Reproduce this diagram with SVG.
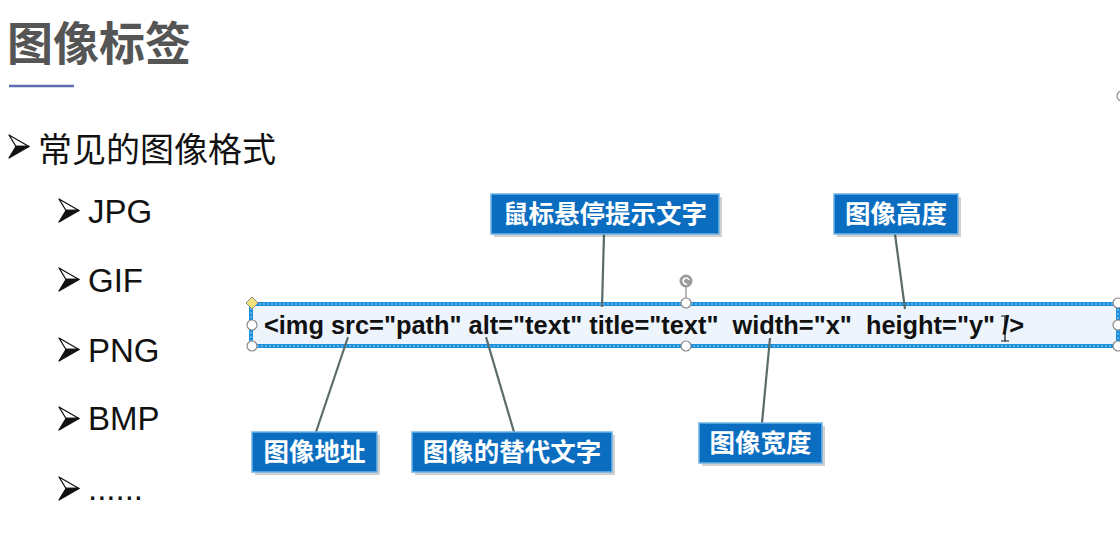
<svg xmlns="http://www.w3.org/2000/svg" width="1120" height="559" viewBox="0 0 1120 559">
<style>
.title{font-family:"Noto Sans CJK SC","Liberation Sans",sans-serif;font-weight:bold;font-size:46px;fill:#555555}
.cn{font-family:"Liberation Sans","Noto Sans CJK SC",sans-serif;font-size:34px;fill:#111111}
.item{font-family:"Liberation Sans","Noto Sans CJK SC",sans-serif;font-size:33px;fill:#111111}
.code{font-family:"Liberation Sans",Arial,sans-serif;font-weight:bold;font-size:26.5px;fill:#111111}
.lbl rect.box{fill:#0b6dbf;stroke:#6fb3e6;stroke-width:1.5}
.lbl rect.sh{fill:#000;opacity:0.18}
.lbl text{font-family:"Noto Sans CJK SC",sans-serif;font-weight:bold;font-size:25.5px;fill:#ffffff;text-anchor:middle}
.conn line{stroke:#5a6b6b;stroke-width:2.2}
.hd{fill:#ffffff;stroke:#8a8a8a;stroke-width:1.2}
</style>
<defs>
<g id="bullet">
<path d="M0,0 L20,11.5 L7,11.5 Z" fill="#ffffff" stroke="#111" stroke-width="1.3" stroke-linejoin="round"/>
<path d="M7,11.5 L20,11.5 L0,23 Z" fill="#111" stroke="#111" stroke-width="1.3" stroke-linejoin="round"/>
</g>
</defs>
<rect width="1120" height="559" fill="#ffffff"/>
<text class="title" x="7" y="60">图像标签</text>
<line x1="9" y1="86" x2="74" y2="86" stroke="#5d6bb3" stroke-width="2.5"/>

<use href="#bullet" x="9" y="135"/>
<text class="cn" x="38" y="162">常见的图像格式</text>
<use href="#bullet" x="59" y="199"/>
<text class="item" x="88" y="223">JPG</text>
<use href="#bullet" x="59" y="268"/>
<text class="item" x="88" y="292">GIF</text>
<use href="#bullet" x="59" y="338"/>
<text class="item" x="88" y="362">PNG</text>
<use href="#bullet" x="59" y="407"/>
<text class="item" x="88" y="430">BMP</text>
<use href="#bullet" x="59" y="477"/>
<text class="item" x="88" y="500">......</text>

<g id="code-box">
<rect x="251" y="304" width="867" height="42" fill="#eef4fb" stroke="#1a8fdb" stroke-width="4"/>
<rect x="251" y="304" width="867" height="42" fill="none" stroke="#9fd0f2" stroke-width="1" stroke-dasharray="2,2"/>
<text class="code" x="264" y="334" xml:space="preserve" textLength="760" lengthAdjust="spacingAndGlyphs">&lt;img src="path" alt="text" title="text"  width="x"  height="y" /&gt;</text>
<line x1="1005" y1="316" x2="1005" y2="341" stroke="#111" stroke-width="1.2"/>
<line x1="1001" y1="316" x2="1009" y2="316" stroke="#111" stroke-width="1"/>
<line x1="1001" y1="341" x2="1009" y2="341" stroke="#111" stroke-width="1"/>
<line x1="686" y1="287" x2="686" y2="299" stroke="#8a8a8a" stroke-width="1.2"/>
<circle cx="686" cy="281" r="6.5" fill="#9a9a9a"/>
<path d="M689,280 A3,3 0 1 0 687,284" fill="none" stroke="#ffffff" stroke-width="1.6"/>
<path d="M252,297 L258,303 L252,309 L246,303 Z" fill="#f3e27a" stroke="#8a8a8a" stroke-width="1"/>
<circle class="hd" cx="252" cy="325" r="5"/>
<circle class="hd" cx="252" cy="346" r="5"/>
<circle class="hd" cx="686" cy="303" r="5"/>
<circle class="hd" cx="686" cy="346" r="5"/>
<circle class="hd" cx="1118" cy="303" r="5"/>
<circle class="hd" cx="1118" cy="325" r="5"/>
<circle class="hd" cx="1118" cy="346" r="5"/>
<circle class="hd" cx="1122" cy="96" r="5"/>
</g>

<g id="connectors" class="conn">
<line x1="604" y1="234" x2="602" y2="307"/>
<line x1="895" y1="234" x2="905" y2="309"/>
<line x1="316" y1="432" x2="348" y2="337"/>
<line x1="514" y1="432" x2="486" y2="337"/>
<line x1="762" y1="423" x2="770" y2="338"/>
</g>

<g id="lbl-title" class="lbl">
<rect class="sh" x="494" y="197" width="228" height="40"/>
<rect class="box" x="491" y="194" width="228" height="40"/>
<text x="605" y="223">鼠标悬停提示文字</text>
</g>
<g id="lbl-height" class="lbl">
<rect class="sh" x="837" y="197" width="124" height="40"/>
<rect class="box" x="834" y="194" width="124" height="40"/>
<text x="896" y="223">图像高度</text>
</g>
<g id="lbl-src" class="lbl">
<rect class="sh" x="255" y="435" width="125" height="40"/>
<rect class="box" x="252" y="432" width="125" height="40"/>
<text x="314.5" y="461">图像地址</text>
</g>
<g id="lbl-alt" class="lbl">
<rect class="sh" x="415" y="435" width="200" height="40"/>
<rect class="box" x="412" y="432" width="200" height="40"/>
<text x="512" y="461">图像的替代文字</text>
</g>
<g id="lbl-width" class="lbl">
<rect class="sh" x="702" y="426" width="123" height="40"/>
<rect class="box" x="699" y="423" width="123" height="40"/>
<text x="760.5" y="452">图像宽度</text>
</g>
</svg>
